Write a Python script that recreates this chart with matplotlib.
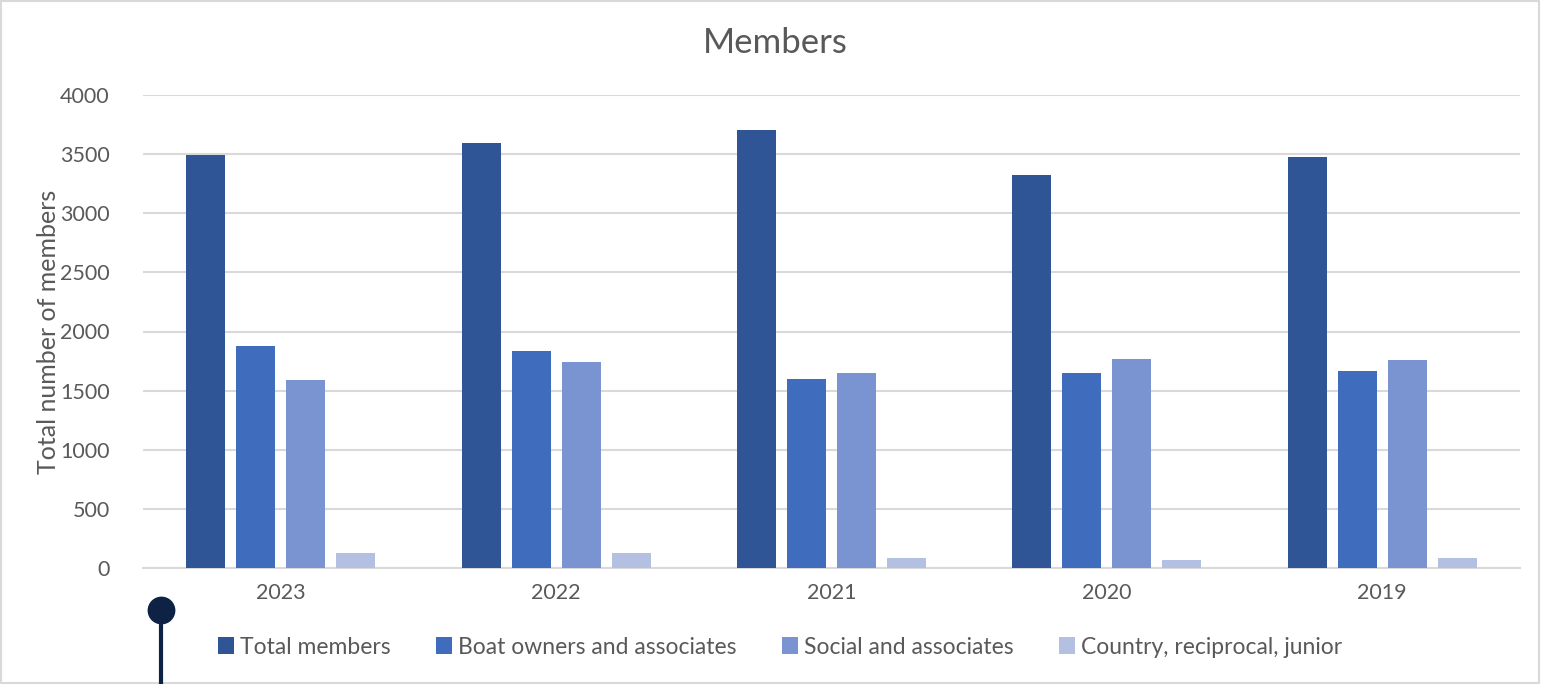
import numpy as np
import matplotlib.pyplot as plt
from matplotlib.lines import Line2D
from matplotlib.patches import Rectangle

plt.rcParams['font.family'] = ['Lato', 'DejaVu Sans']

years = ['2023', '2022', '2021', '2020', '2019']
total_members = [3490, 3590, 3700, 3320, 3475]
boat_owners = [1875, 1835, 1595, 1650, 1670]
social = [1590, 1740, 1650, 1765, 1760]
country = [125, 125, 85, 68, 85]

series = [
    ('Total members', total_members, '#2F5597'),
    ('Boat owners and associates', boat_owners, '#3F6CBD'),
    ('Social and associates', social, '#7A94D2'),
    ('Country, reciprocal, junior', country, '#B4C0E1'),
]

text_color = '#595959'
grid_color = '#D9D9D9'

fig = plt.figure(figsize=(15.42, 6.84), dpi=100)
ax = fig.add_axes([143 / 1542, 1 - 568 / 684, (1520 - 143) / 1542, 473 / 684])

x = np.arange(len(years))
width = 0.142
step = 0.1816
for i, (name, vals, col) in enumerate(series):
    ax.bar(x + (i - 1.5) * step, vals, width, color=col, label=name, zorder=3)

ax.set_xlim(-0.5, len(years) - 0.5)
ax.set_ylim(0, 4000)
ax.set_yticks(np.arange(0, 4001, 500))
ax.set_xticks(x)
ax.set_xticklabels(years)
ax.yaxis.grid(True, color=grid_color, linewidth=1.5, zorder=0)
for s in ['top', 'right', 'left']:
    ax.spines[s].set_visible(False)
ax.spines['bottom'].set_color(grid_color)
ax.spines['bottom'].set_linewidth(1.5)
ax.tick_params(axis='both', length=0, labelsize=15.5, colors=text_color)
ax.tick_params(axis='x', pad=11)
ax.tick_params(axis='y', pad=24)

ax.set_ylabel('Total number of members', fontsize=18, color=text_color, va='center')
ax.yaxis.set_label_coords((49 - 143) / 1377, 0.5)
fig.text(775 / 1542, 1 - 43 / 684, 'Members', ha='center', va='center',
         fontsize=25, color=text_color)

ax.legend(loc='center', bbox_to_anchor=(780 / 1542, 1 - 647 / 684),
          bbox_transform=fig.transFigure, ncol=4, frameon=False,
          fontsize=16.5, labelcolor=text_color, handlelength=0.7,
          handleheight=0.7, handletextpad=0.25, columnspacing=2.0)

# outer chart border
fig.patches.append(Rectangle((1 / 1542, 1 / 684), 1538 / 1542, 682 / 684,
                             transform=fig.transFigure, fill=False,
                             edgecolor='#D9D9D9', linewidth=1.5))

# decorative pin at bottom left
fig.lines.append(Line2D([161 / 1542, 161 / 1542], [0, 1 - 610 / 684],
                        transform=fig.transFigure, color='#0E2245', linewidth=3))
fig.lines.append(Line2D([161 / 1542], [1 - 610 / 684], transform=fig.transFigure,
                        marker='o', markersize=19, color='#0E2245'))

plt.savefig('out.png', dpi=100)
